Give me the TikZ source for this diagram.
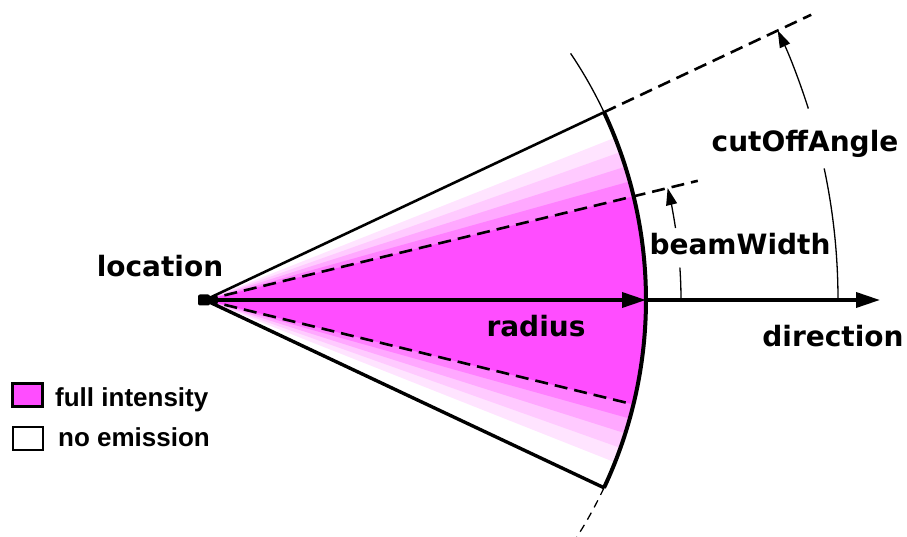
\documentclass[tikz,border=0pt]{standalone}
\usepackage{fontspec}
\setmainfont{DejaVu Sans}
\newfontfamily\legfont{Liberation Sans}
\usetikzlibrary{arrows.meta,calc}
\definecolor{full}{RGB}{255,77,255}
\definecolor{bandA}{RGB}{255,128,255}
\definecolor{bandB}{RGB}{255,168,255}
\definecolor{bandC}{RGB}{255,202,255}
\definecolor{bandD}{RGB}{255,228,255}
\tikzset{
  lbl/.style={font=\fontsize{28}{30}\selectfont\bfseries, inner sep=0pt, anchor=base},
  leg/.style={font=\fontsize{26}{28}\selectfont\legfont\bfseries, inner sep=0pt, anchor=base west},
  legbox/.style={draw, line width=2.4pt, minimum width=30pt, minimum height=23pt, inner sep=0pt},
  dashline/.style={line width=2.6pt, dash pattern=on 13pt off 7pt},
  bigarrow/.style={line width=3.6pt, -{Triangle[length=24pt,width=15pt]}},
  anglearrow/.style={line width=1.3pt, -{Triangle[length=17pt,width=11pt]}},
  thinline/.style={line width=1.3pt}
}
\begin{document}
\begin{tikzpicture}[x=1pt,y=1pt]
\useasboundingbox (-205,-237) rectangle (702,300);
\def\R{441}
\coordinate (O) at (0,0);
% shading bands
\fill[bandD] (O) -- (-21.6:\R) arc[start angle=-21.6, end angle=21.6, radius=\R] -- cycle;
\fill[bandC] (O) -- (-19.6:\R) arc[start angle=-19.6, end angle=19.6, radius=\R] -- cycle;
\fill[bandB] (O) -- (-17.6:\R) arc[start angle=-17.6, end angle=17.6, radius=\R] -- cycle;
\fill[bandA] (O) -- (-15.6:\R) arc[start angle=-15.6, end angle=15.6, radius=\R] -- cycle;
\fill[full] (O) -- (-13.7:\R) arc[start angle=-13.7, end angle=13.6, radius=\R] -- cycle;
% coordinates
\coordinate (up) at (25.2:\R);
\coordinate (lo) at (-25.2:\R);
\coordinate (mid) at (0:\R);
\coordinate (cutend) at (25.2:670);
\coordinate (beamend) at (13.6:507);
\coordinate (beamlo) at (-13.7:\R);
\coordinate (dirend) at (675,0);
% cone edges
\draw[line width=2.6pt] (O) -- (up);
\draw[line width=3.4pt] (O) -- (lo);
% dashed lines
\draw[dashline] (O) -- (beamend);
\draw[dashline] (O) -- (beamlo);
\draw[dashline] (up) -- (cutend);
% arcs
\draw[thinline] (up) arc[start angle=25.2, end angle=34, radius=\R];
\draw[thinline, dash pattern=on 8pt off 6pt] (lo) arc[start angle=-25.2, end angle=-32.5, radius=\R];
\draw[line width=4pt] (lo) arc[start angle=-25.2, end angle=25.2, radius=\R];
% arrows
\draw[bigarrow] (O) -- (mid);
\draw[bigarrow] (mid) -- (dirend);
\node[fill=black, rounded corners=2pt, inner sep=0pt, minimum width=12pt, minimum height=11pt] (loc) at (-1,0) {};
% angle arcs
\draw[thinline] (0:633) arc[start angle=0, end angle=12, radius=633];
\draw[anglearrow] (17.6:633) arc[start angle=17.6, end angle=25.2, radius=633];
\draw[thinline] (0:476) arc[start angle=0, end angle=3.9, radius=476];
\draw[anglearrow] (8.7:476) arc[start angle=8.7, end angle=13.6, radius=476];
% labels
\node[lbl] (tloc) at (-45,23) {location};
\node[lbl] (trad) at (331,-37) {radius};
\node[lbl] (tdir) at (628,-47) {direction};
\node[lbl] (tbeam) at (535,45) {beamWidth};
\node[lbl] (tcut) at (600,148) {cutOffAngle};
% legend
\node[legbox, fill=full] (box1) at (-177.5,-95) {};
\node[legbox, fill=white] (box2) at (-177,-138.5) {};
\node[leg] (tfull) at (-150,-107) {full intensity};
\node[leg] (tno) at (-147,-147) {no emission};
\end{tikzpicture}
\end{document}
